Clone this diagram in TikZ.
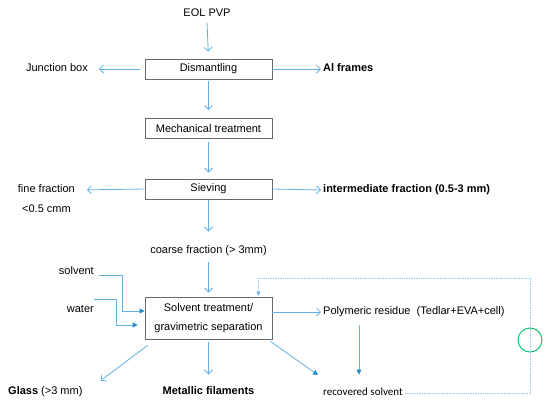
\documentclass[tikz,border=0pt]{standalone}
\usepackage{fontspec}
\setmainfont{Liberation Sans}
\newfontfamily\calibfont{Carlito}
\usetikzlibrary{arrows.meta}
\definecolor{lineblue}{RGB}{98,176,230}
\definecolor{headblue}{RGB}{28,140,210}
\definecolor{boxgray}{RGB}{105,105,105}
\definecolor{dotblue}{RGB}{150,200,235}
\definecolor{ringgreen}{RGB}{20,195,120}
\begin{document}
\begin{tikzpicture}[
  x=1pt,
  y=-1pt,
  lbl/.style={font=\fontsize{11}{13}\selectfont, inner sep=2pt, text height=8pt, text depth=2.5pt},
  box/.style={draw=boxgray, line width=0.8pt, minimum width=127pt, minimum height=20pt,
    inner sep=2pt, align=center, font=\fontsize{11}{19}\selectfont},
  arr/.style={draw=lineblue, line width=0.8pt, -{Straight Barb[length=4pt,width=8pt]}},
  feed/.style={draw=lineblue, line width=0.8pt, -{Triangle[length=5pt,width=5pt,color=headblue]}},
  loopline/.style={draw=dotblue, line width=0.7pt, densely dotted,
    -{Triangle[length=4pt,width=4pt,color=lineblue]}}
]
\useasboundingbox (0,0) rectangle (550,408);

\node[lbl] (eol) at (207,14) {EOL PVP};
\node[box] (dism) at (208.5,69) {Dismantling};
\node[box] (mech) at (208.5,128.5) {Mechanical treatment};
\node[box] (sieve) at (208.5,189) {Sieving};
\node[lbl] (coarse) at (208.5,251) {coarse fraction (> 3mm)};
\node[box, minimum height=42pt] (solv) at (208.5,318) {Solvent treatment/\\gravimetric separation};

\node[lbl, anchor=east] (junc) at (90,69) {Junction box};
\node[lbl, anchor=west, font=\fontsize{11}{13}\selectfont\bfseries] (al) at (321,69) {Al frames};
\node[lbl, anchor=east] (fine) at (77,190) {fine fraction};
\node[lbl, anchor=west] (cmm) at (20,210) {<0.5 cmm};
\node[lbl, anchor=west, font=\fontsize{11}{13}\selectfont\bfseries] (inter) at (321,190) {intermediate fraction (0.5-3 mm)};
\node[lbl, anchor=east] (solvin) at (96,272) {solvent};
\node[lbl, anchor=east] (water) at (96,310) {water};
\node[lbl, anchor=west] (poly) at (321,312) {Polymeric residue\ \ (Tedlar+EVA+cell)};
\node[lbl, anchor=west] (glass) at (6,392) {\textbf{Glass} (>3 mm)};
\node[lbl, font=\fontsize{11}{13}\selectfont\bfseries] (metal) at (208.5,392) {Metallic filaments};
\node[lbl, anchor=west, font=\calibfont\fontsize{11}{13}\selectfont] (recov) at (321,393) {recovered solvent};
\node[circle, draw=ringgreen, line width=1pt, minimum size=24pt, inner sep=0pt] (ring) at (530,340) {};
\coordinate (loopcorner) at (530,278);

\draw[arr, shorten <=1pt, shorten >=7pt] (eol.south) -- (dism.north);
\draw[arr, shorten <=2pt, shorten >=8pt] (dism.south) -- (mech.north);
\draw[arr, shorten <=3pt, shorten >=6pt] (mech.south) -- (sieve.north);
\draw[arr, shorten <=1pt, shorten >=12pt] (sieve.south) -- (coarse.north);
\draw[arr, shorten <=4pt, shorten >=4pt] (coarse.south) -- (solv.north);

\draw[arr, shorten <=5pt, shorten >=9pt] (dism.west) -- (junc.east);
\draw[arr] (dism.east) -- (al.west);
\draw[arr, shorten >=10pt] (sieve.west) -- (fine.east);
\draw[arr] (sieve.east) -- (inter.west);

\draw[feed] ([shift={(3,3)}]solvin.east) -- ++(23,0) |- ([shift={(0,-7)}]solv.west);
\draw[feed] ([shift={(-2,-11)}]water.east) -- ++(22,0) |- ([shift={(-7,7)}]solv.west);

\draw[arr] ([shift={(0,-6)}]solv.east) -- (poly.west);
\draw[arr] ([shift={(3,6)}]solv.south west) -- ([shift={(16,-4)}]glass.north east);
\draw[arr, shorten <=3pt, shorten >=10pt] (solv.south) -- (metal.north);
\draw[feed] ([shift={(-2,2)}]solv.south east) -- ([shift={(-3,-18)}]recov.west);
\draw[feed] ([shift={(38,6)}]poly.south west) -- ([shift={(38,-11)}]recov.north west);

\draw[loopline] (recov.east) -| (loopcorner) -| ([shift={(-14,-1)}]solv.north east);
\end{tikzpicture}
\end{document}
